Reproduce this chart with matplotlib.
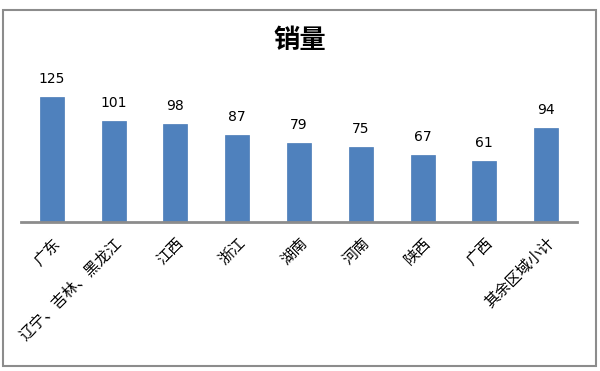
import matplotlib
matplotlib.use("Agg")
import matplotlib.pyplot as plt
from matplotlib.patches import Rectangle

plt.rcParams['font.family'] = ['Noto Sans CJK SC', 'DejaVu Sans']

categories = ['广东', '辽宁、吉林、黑龙江', '江西', '浙江', '湖南', '河南', '陕西', '广西', '其余区域小计']
values = [125, 101, 98, 87, 79, 75, 67, 61, 94]
title = '销量'

W, H = 600, 371
fig = plt.figure(figsize=(W / 100, H / 100), dpi=100)
fig.patch.set_facecolor('white')

# outer chart frame
fig.patches.append(Rectangle((3 / W, 1 - 366 / H), 593 / W, 356 / H, transform=fig.transFigure,
                             fill=False, edgecolor='#8c8c8c', linewidth=1.5))

ax_left, ax_right, ax_bottom, ax_top = 21, 577, 222, 72
ax = fig.add_axes([ax_left / W, 1 - ax_bottom / H, (ax_right - ax_left) / W, (ax_bottom - ax_top) / H])
x = list(range(len(categories)))
ax.bar(x, values, width=0.39, color='#4f81bd', edgecolor='#4a7bb7', linewidth=0.5)
ax.set_xlim(-0.5, len(categories) - 0.5)
ax.set_ylim(0, 150)

for xi, v in zip(x, values):
    ax.annotate(str(v), (xi, v), xytext=(0, 8), textcoords='offset points',
                ha='center', va='bottom', fontsize=10, color='black', family=['DejaVu Sans'])

for s in ['top', 'right', 'left']:
    ax.spines[s].set_visible(False)
ax.spines['bottom'].set_color('#8c8c8c')
ax.spines['bottom'].set_linewidth(2)
ax.set_yticks([])
ax.set_xticks(x)
ax.set_xticklabels(categories, rotation=45, ha='right', va='top', rotation_mode='anchor', fontsize=11)
ax.tick_params(axis='x', length=0, pad=9)
for lbl in ax.get_xticklabels():
    lbl.set_x(lbl.get_position()[0])

fig.text(0.5, 1 - 40 / H, title, ha='center', va='center', fontsize=19, fontweight='bold')

fig.savefig('out.png', dpi=100, facecolor='white')
